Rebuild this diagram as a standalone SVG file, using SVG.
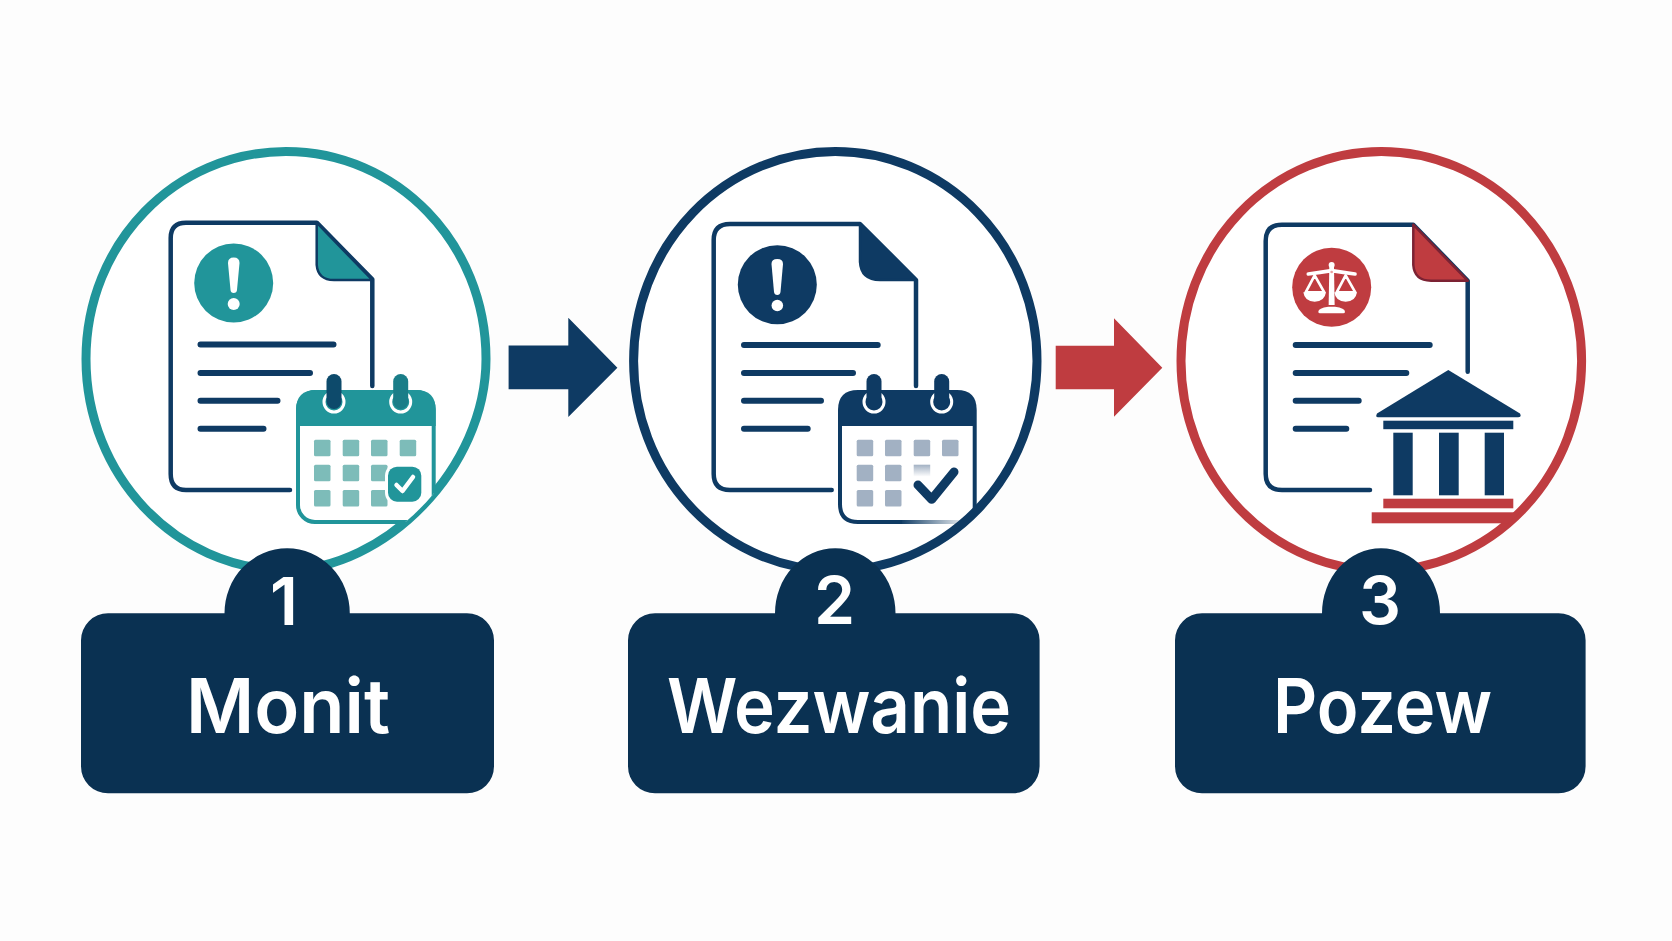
<svg xmlns="http://www.w3.org/2000/svg" width="1672" height="941" viewBox="0 0 1672 941">
<style>
.ring{fill:#fff;stroke-width:9}
.doc{fill:none;stroke:#0e3a63;stroke-width:4.5;stroke-linecap:round;stroke-linejoin:round}
.ln{fill:none;stroke:#0e3a63;stroke-width:6;stroke-linecap:round}
.lbl{fill:#fff;font-family:Inter,"Liberation Sans",sans-serif;font-weight:600;font-size:76px;text-anchor:middle}
.num{fill:#fff;font-family:Inter,"Liberation Sans",sans-serif;font-weight:600;font-size:66px;text-anchor:middle}
.box{fill:#0a3152}
.wht{fill:#fff}
.t{fill:#21959a}.tl{fill:#7dbcb9}
.n{fill:#0e3a63}.nl{fill:#a2b1c3}
.r{fill:#bf3c40}
</style>
<defs>
<clipPath id="c1"><path d="M86 359C86 243 175.5 151.5 286 151.5C396.5 151.5 486 243 486 359C486 468 385 570 286 570C175.5 570 86 475 86 359Z"/></clipPath>
<clipPath id="c2"><ellipse cx="835.3" cy="361" rx="201.7" ry="209.5"/></clipPath>
<clipPath id="c3"><ellipse cx="1381.3" cy="361" rx="200.3" ry="209.5"/></clipPath>
<linearGradient id="fade" x1="0" x2="1" y1="0" y2="0"><stop offset="0" stop-color="#0e3a63"/><stop offset="1" stop-color="#0e3a63" stop-opacity="0.1"/></linearGradient>
<linearGradient id="fade2" x1="0" x2="0" y1="0" y2="1"><stop offset="0" stop-color="#a2b1c3"/><stop offset="1" stop-color="#a2b1c3" stop-opacity="0"/></linearGradient>
</defs>
<rect width="1672" height="941" fill="#fdfdfd"/>

<g id="connectors">
<polygon class="n" points="508.6,345.5 568.3,345.5 568.3,317.7 617.4,367.7 568.3,417 568.3,389.2 508.6,389.2"/>
<polygon class="r" points="1055.7,345.7 1114,345.7 1114,318.3 1162.3,367.7 1114,416.7 1114,389.3 1055.7,389.3"/>
</g>

<g id="node-1">
<path class="ring" stroke="#21959a" d="M86 359C86 243 175.5 151.5 286 151.5C396.5 151.5 486 243 486 359C486 468 385 570 286 570C175.5 570 86 475 86 359Z"/>
<path class="doc" d="M290 490H186Q170.7 490 170.7 474V238Q170.7 222.7 186 222.7H316.7L372.3 279.3V386"/>
<path class="t" d="M316.7 222.7V265Q318 280 334 280H372.3Z" stroke="#0e3a63" stroke-width="2.5" stroke-linejoin="round"/>
<circle class="t" cx="233.7" cy="283" r="39.5"/>
<path class="wht" d="M228 263Q228 257.5 233.7 257.5Q239.5 257.5 239.5 263L237 290Q236.7 293 233.7 293Q230.8 293 230.5 290Z"/>
<circle class="wht" cx="233.7" cy="304" r="6"/>
<path class="ln" d="M200.5 344.5H333.5M200.5 373H310M200.5 400.7H277.5M200.5 428.7H263.5"/>
<g clip-path="url(#c1)">
<rect x="298" y="392" width="135.7" height="130" rx="17" fill="#fff" stroke="#21959a" stroke-width="4"/>
<path class="t" d="M296 426V410Q296 390 316 390H416Q435.7 390 435.7 410V426Z"/>
<rect class="tl" x="314" y="439.7" width="16.5" height="16.5" rx="1.5"/><rect class="tl" x="342.7" y="439.7" width="16.5" height="16.5" rx="1.5"/><rect class="tl" x="371" y="439.7" width="16.5" height="16.5" rx="1.5"/><rect class="tl" x="399.7" y="439.7" width="16.5" height="16.5" rx="1.5"/>
<rect class="tl" x="314" y="464.7" width="16.5" height="16.5" rx="1.5"/><rect class="tl" x="342.7" y="464.7" width="16.5" height="16.5" rx="1.5"/><rect class="tl" x="371" y="464.7" width="16.5" height="16.5" rx="1.5"/>
<rect class="tl" x="314" y="490" width="16.5" height="16.5" rx="1.5"/><rect class="tl" x="342.7" y="490" width="16.5" height="16.5" rx="1.5"/><rect class="tl" x="371" y="490" width="16.5" height="16.5" rx="1.5"/>
<rect x="385" y="463.7" width="39.3" height="41" rx="12" fill="#fff"/>
<rect class="t" x="388" y="466.7" width="33.3" height="35" rx="9"/>
<path d="M396.5 485L402.5 491L413 477" fill="none" stroke="#fff" stroke-width="4.5" stroke-linecap="round" stroke-linejoin="round"/>
</g>
<circle cx="334" cy="402" r="10" fill="none" stroke="#fff" stroke-width="3"/>
<circle cx="400.7" cy="402" r="10" fill="none" stroke="#fff" stroke-width="3"/>
<rect x="326.5" y="374" width="15" height="35" rx="7.5" fill="#0d4a6b"/>
<rect x="393.2" y="374" width="15" height="35" rx="7.5" fill="#1a7d88"/>
</g>
<g id="label-1">
<path class="box" d="M108 613.3H224.5A62.65 65 0 0 1 349.8 613.3H467A27 27 0 0 1 494 640.3V766.3A27 27 0 0 1 467 793.3H108A27 27 0 0 1 81 766.3V640.3A27 27 0 0 1 108 613.3Z"/>
<text class="num" x="284" y="625">1</text>
<text class="lbl" x="288" y="733" textLength="204" lengthAdjust="spacingAndGlyphs">Monit</text>
</g>

<g id="node-2">
<ellipse class="ring" cx="835.3" cy="361" rx="201.7" ry="209.5" stroke="#0e3a63"/>
<path class="doc" d="M831.7 490H730Q713.7 490 713.7 474V240Q713.7 224 730 224H860L916 280V386"/>
<path class="n" d="M860 224V262Q861 280 880 280H916Z" stroke="#0e3a63" stroke-width="2.5" stroke-linejoin="round"/>
<circle class="n" cx="777.3" cy="284.7" r="39.5"/>
<path class="wht" d="M771.5 264Q771.5 259 777.3 259Q783 259 783 264L780.5 292Q780 295 777.3 295Q774.5 295 774 292Z"/>
<circle class="wht" cx="777.3" cy="305.5" r="5.8"/>
<path class="ln" d="M744 345H877.7M744 373H853M744 400.7H821M744 428.7H807.7"/>
<g clip-path="url(#c2)">
<path d="M840 426V504Q840 522 858 522H902" fill="none" stroke="#0e3a63" stroke-width="4"/>
<path d="M974.7 426V510" fill="none" stroke="#0e3a63" stroke-width="4"/>
<rect x="900" y="520" width="63" height="4" fill="url(#fade)"/>
<path class="n" d="M838 426V410Q838 390 858 390H957Q976.7 390 976.7 410V426Z"/>
<rect class="nl" x="856.7" y="439.7" width="16.5" height="16.5" rx="1.5"/><rect class="nl" x="885" y="439.7" width="16.5" height="16.5" rx="1.5"/><rect class="nl" x="913.7" y="439.7" width="16.5" height="16.5" rx="1.5"/><rect class="nl" x="942" y="439.7" width="16.5" height="16.5" rx="1.5"/>
<rect class="nl" x="856.7" y="464.7" width="16.5" height="16.5" rx="1.5"/><rect class="nl" x="885" y="464.7" width="16.5" height="16.5" rx="1.5"/><rect x="913.7" y="464.7" width="16.5" height="12" fill="url(#fade2)"/>
<rect class="nl" x="856.7" y="490" width="16.5" height="16.5" rx="1.5"/><rect class="nl" x="885" y="490" width="16.5" height="16.5" rx="1.5"/>
<path d="M918 485L931.7 499.3L954 472" fill="none" stroke="#0e3a63" stroke-width="9" stroke-linecap="round" stroke-linejoin="round"/>
</g>
<circle cx="874" cy="402" r="10" fill="none" stroke="#fff" stroke-width="3"/>
<circle cx="941.7" cy="402" r="10" fill="none" stroke="#fff" stroke-width="3"/>
<rect class="n" x="866.5" y="374" width="15" height="35" rx="7.5"/>
<rect class="n" x="934.2" y="374" width="15" height="35" rx="7.5"/>
</g>
<g id="label-2">
<path class="box" d="M655 613.3H775A60.25 65 0 0 1 895.5 613.3H1012.6A27 27 0 0 1 1039.6 640.3V766.3A27 27 0 0 1 1012.6 793.3H655A27 27 0 0 1 628 766.3V640.3A27 27 0 0 1 655 613.3Z"/>
<text class="num" x="834.5" y="624">2</text>
<text class="lbl" x="839" y="733" textLength="344" lengthAdjust="spacingAndGlyphs">Wezwanie</text>
</g>

<g id="node-3">
<ellipse class="ring" cx="1381.3" cy="361" rx="200.3" ry="209.5" stroke="#bf3c40"/>
<path class="doc" d="M1370 490H1282Q1265.7 490 1265.7 474V241Q1265.7 224.7 1282 224.7H1413.3L1467.7 280.7V371.7"/>
<path class="r" d="M1413.3 224.7V265Q1414.5 280.7 1431 280.7H1467.7Z" stroke="#7c2233" stroke-width="2.5" stroke-linejoin="round"/>
<circle class="r" cx="1331.7" cy="287.3" r="39.5"/>
<g transform="translate(1170 130) scale(.3333)">
<circle class="wht" cx="485" cy="405" r="9"/>
<path class="wht" d="M478 410H492L494 525H476Z"/>
<path d="M415 432Q450 428 485 422Q520 428 555 432" fill="none" stroke="#fff" stroke-width="11" stroke-linecap="round"/>
<path class="wht" d="M445 545Q445 534 475 530H495Q525 534 525 545Q525 550 520 550H450Q445 550 445 545Z"/>
<path d="M434 436L407 487H463Z M527 436L500 487H556Z" fill="none" stroke="#fff" stroke-width="8" stroke-linejoin="round"/>
<path class="wht" d="M400 487H468Q464 515 434 515Q404 515 400 487Z M493 487H561Q557 515 527 515Q497 515 493 487Z"/>
<circle cx="485" cy="426" r="4" fill="#e8a0a0"/>
</g>
<path class="ln" d="M1295.7 345H1429.7M1295.7 373H1406.3M1295.7 400.7H1358.7M1295.7 428.7H1346.3"/>
<path class="n" d="M1448.3 370L1520 413.5Q1522 417.3 1518 417.3H1378Q1375 417.3 1377 413.5Z"/>
<rect class="n" x="1383.3" y="420.7" width="130" height="8.5"/>
<rect class="n" x="1393.3" y="432.7" width="19.4" height="62.6"/>
<rect class="n" x="1439" y="432.7" width="19.7" height="62.6"/>
<rect class="n" x="1484.7" y="432.7" width="19.3" height="62.6"/>
<rect class="r" x="1383.3" y="498.7" width="130" height="9.6"/>
<g clip-path="url(#c3)"><rect class="r" x="1371.7" y="512.3" width="160" height="11"/></g>
</g>
<g id="label-3">
<path class="box" d="M1202 613.3H1322A59 65 0 0 1 1440 613.3H1558.6A27 27 0 0 1 1585.6 640.3V766.3A27 27 0 0 1 1558.6 793.3H1202A27 27 0 0 1 1175 766.3V640.3A27 27 0 0 1 1202 613.3Z"/>
<text class="num" x="1380" y="624">3</text>
<text class="lbl" x="1382.5" y="733" textLength="219" lengthAdjust="spacingAndGlyphs">Pozew</text>
</g>
</svg>
